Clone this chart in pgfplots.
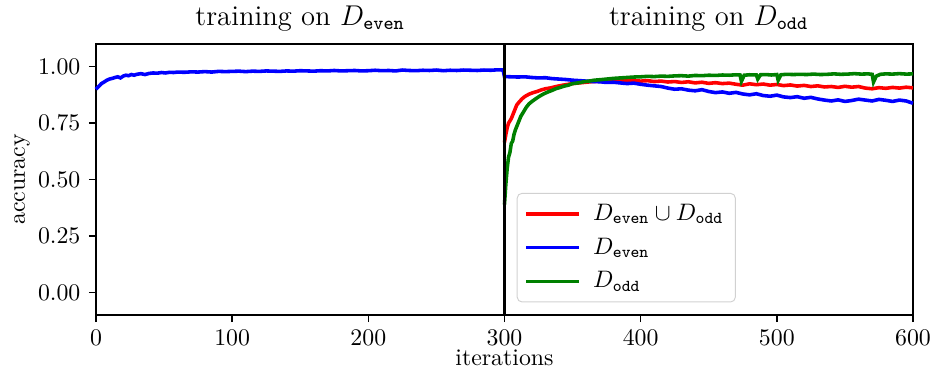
\documentclass[border=0pt]{standalone}
\usepackage{pgfplots}
\pgfplotsset{compat=1.18}
\begin{document}
\begin{tikzpicture}
\begin{axis}[
  name=ax,
  scale only axis,
  width=343.1pt, height=113.8pt,
  xmin=0, xmax=600, ymin=-0.1, ymax=1.1,
  xtick={0,100,...,600},
  ytick={0,0.25,0.5,0.75,1},
  yticklabel style={/pgf/number format/.cd, fixed, fixed zerofill, precision=2},
  tick align=outside,
  xtick pos=bottom, ytick pos=left,
  major tick length=3pt,
  tick style={black, line width=0.6pt},
  axis line style={line width=0.6pt},
  xlabel={iterations},
  ylabel={accuracy},
  xlabel style={at={(rel axis cs:0.5,0)}, anchor=base, yshift=-21.2pt},
  ylabel style={at={(rel axis cs:0,0.5)}, anchor=base, yshift=29.9pt},
  clip=false,
  legend cell align=left,
  legend style={at={(axis cs:309,0.441)}, anchor=north west, draw=black!18, rounded corners=2pt, fill=white, inner xsep=3pt, inner ysep=2.5pt, row sep=1.8pt, font=\normalsize,
    /tikz/every odd column/.append style={column sep=3.4pt}},
  legend image code/.code={\draw[#1, line width=1.5pt] (0pt,0pt) -- (22pt,0pt);},
]
\addplot[red, line width=1.5pt] coordinates {
(300,0.665) (301,0.70) (302,0.73) (303,0.75) (305,0.77) (307,0.80) (309,0.83) (311,0.845) (313,0.858) (315,0.868) (318,0.878) (321,0.885) (324,0.890) (327,0.897) (330,0.902) (334,0.906) (338,0.912) (342,0.917) (346,0.921) (350,0.925) (355,0.928) (360,0.931) (365,0.934) (370,0.935) (375,0.937) (380,0.939) (385,0.937) (390,0.940) (395,0.938) (400,0.936) (405,0.938) (410,0.934) (415,0.936) (420,0.932) (425,0.934) (430,0.930) (435,0.933) (440,0.928) (445,0.931) (450,0.926) (455,0.929) (460,0.925) (465,0.927) (470,0.922) (475,0.918) (480,0.924) (485,0.920) (490,0.923) (495,0.918) (500,0.921) (505,0.916) (510,0.919) (515,0.914) (520,0.917) (525,0.912) (530,0.915) (535,0.910) (540,0.912) (545,0.908) (550,0.913) (555,0.909) (560,0.912) (565,0.905) (570,0.902) (575,0.907) (580,0.904) (585,0.908) (590,0.905) (595,0.909) (600,0.906)
};
\addlegendentry{$D_{\mathtt{even}}\cup D_{\mathtt{odd}}$}
\addplot[blue, line width=1.5pt] coordinates {
(0,0.900) (2,0.912) (4,0.925) (6,0.932) (8,0.940) (10,0.945) (12,0.948) (14,0.952) (16,0.955) (18,0.950) (20,0.958) (22,0.962) (24,0.960) (26,0.965) (28,0.962) (30,0.966) (33,0.969) (36,0.965) (39,0.970) (42,0.972) (45,0.971) (48,0.974) (51,0.972) (54,0.975) (57,0.974) (60,0.976) (65,0.975) (70,0.977) (75,0.976) (80,0.978) (85,0.976) (90,0.979) (95,0.978) (100,0.979) (105,0.980) (110,0.978) (115,0.980) (120,0.979) (125,0.981) (130,0.980) (135,0.979) (140,0.981) (145,0.980) (150,0.982) (155,0.981) (160,0.980) (165,0.982) (170,0.981) (175,0.983) (180,0.981) (185,0.982) (190,0.983) (195,0.981) (200,0.982) (205,0.984) (210,0.982) (215,0.983) (220,0.981) (225,0.985) (230,0.983) (235,0.982) (240,0.984) (245,0.983) (250,0.985) (255,0.982) (260,0.984) (265,0.983) (270,0.985) (275,0.984) (280,0.983) (285,0.985) (290,0.984) (295,0.986) (299,0.985)
(300,0.956) (305,0.955) (310,0.954) (315,0.955) (320,0.952) (325,0.950) (330,0.951) (335,0.947) (340,0.945) (345,0.943) (350,0.940) (355,0.938) (360,0.936) (365,0.934) (370,0.933) (375,0.930) (380,0.931) (385,0.928) (390,0.925) (395,0.927) (400,0.922) (405,0.918) (410,0.915) (415,0.912) (420,0.905) (425,0.900) (430,0.902) (435,0.896) (440,0.893) (445,0.898) (450,0.890) (455,0.885) (460,0.888) (465,0.882) (470,0.886) (475,0.879) (480,0.875) (485,0.880) (490,0.872) (495,0.869) (500,0.874) (505,0.866) (510,0.863) (515,0.867) (520,0.860) (525,0.864) (530,0.857) (535,0.852) (540,0.848) (545,0.853) (550,0.846) (555,0.850) (560,0.856) (565,0.852) (570,0.848) (575,0.855) (580,0.851) (585,0.846) (590,0.852) (595,0.848) (600,0.838)
};
\addlegendentry{$D_{\mathtt{even}}$}
\addplot[green!50!black, line width=1.5pt] coordinates {
(300,0.39) (301,0.48) (302,0.55) (303,0.60) (304,0.62) (305,0.66) (306,0.67) (307,0.70) (308,0.72) (310,0.75) (312,0.78) (314,0.80) (316,0.82) (318,0.835) (320,0.845) (323,0.858) (326,0.870) (329,0.880) (332,0.888) (335,0.895) (338,0.903) (341,0.908) (344,0.914) (347,0.918) (350,0.925) (354,0.928) (358,0.933) (362,0.936) (366,0.940) (370,0.942) (375,0.945) (380,0.948) (385,0.950) (390,0.952) (395,0.954) (400,0.955) (405,0.957) (410,0.956) (415,0.958) (420,0.957) (425,0.959) (430,0.960) (435,0.958) (440,0.961) (445,0.960) (450,0.962) (455,0.961) (460,0.963) (465,0.962) (470,0.964) (473,0.963) (474,0.935) (476,0.962) (480,0.964) (485,0.963) (486,0.945) (488,0.964) (492,0.965) (496,0.963) (500,0.965) (501,0.940) (503,0.964) (507,0.966) (512,0.965) (517,0.966) (522,0.965) (527,0.967) (532,0.965) (537,0.966) (542,0.968) (547,0.966) (552,0.967) (557,0.969) (562,0.967) (567,0.968) (570,0.966) (571,0.932) (573,0.958) (576,0.966) (580,0.968) (585,0.967) (590,0.969) (595,0.967) (600,0.968)
};
\addlegendentry{$D_{\mathtt{odd}}$}
\addplot[black, line width=1pt, forget plot] coordinates {(300,-0.1) (300,1.1)};
\node[anchor=base, font=\large] at (axis cs:150,1.1) [yshift=8pt] {training on $D_{\mathtt{even}}$};
\node[anchor=base, font=\large] at (axis cs:450,1.1) [yshift=8pt] {training on $D_{\mathtt{odd}}$};
\end{axis}
\pgfresetboundingbox
\path[use as bounding box] ([shift={(-40.3pt,-21.4pt)}]ax.south west) rectangle ([shift={(8.4pt,18.5pt)}]ax.north east);
\end{tikzpicture}
\end{document}
